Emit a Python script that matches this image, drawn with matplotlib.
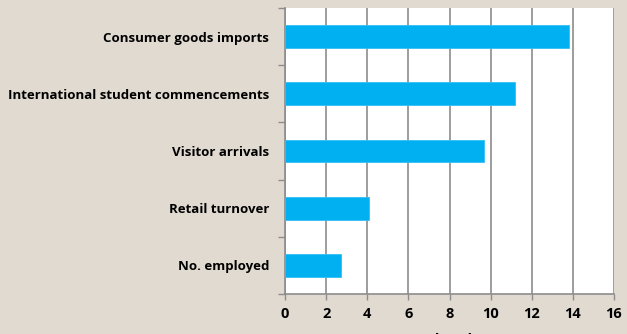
import matplotlib.pyplot as plt
import numpy as np

# Data (annual % change), top to bottom as shown
categories = [
    "Consumer goods imports",
    "International student commencements",
    "Visitor arrivals",
    "Retail turnover",
    "No. employed",
]
values = [13.8, 11.2, 9.7, 4.1, 2.7]
x_ticks = list(range(0, 17, 2))

BG = "#E0DAD0"
BAR = "#00B0F0"
GRID = "#8C8C8C"

plt.rcParams["font.family"] = ["Open Sans", "DejaVu Sans"]

fig = plt.figure(figsize=(6.27, 3.34), dpi=100, facecolor=BG)
ax = fig.add_axes([285 / 627, 1 - 294 / 334, 329 / 627, 286 / 334])
ax.set_facecolor("white")

n = len(categories)
ypos = np.arange(n)[::-1]
ax.barh(ypos, values, height=0.4, color=BAR, edgecolor="#33C0F4", linewidth=0.6, zorder=3)

ax.set_xlim(0, 16)
ax.set_ylim(-0.5, n - 0.5)
ax.set_xticks(x_ticks)
ax.set_xticklabels([str(t) for t in x_ticks], fontsize=10.5, fontweight="bold")
ax.grid(axis="x", color=GRID, linewidth=1.2, zorder=0)
ax.set_axisbelow(True)

# category boundaries as major ticks, names as minor ticks
ax.set_yticks(np.arange(-0.5, n, 1.0))
ax.set_yticklabels([])
ax.set_yticks(ypos, minor=True)
ax.set_yticklabels(categories, minor=True, fontsize=9.5, fontweight="bold")
ax.tick_params(axis="y", which="minor", length=0, pad=11.5)
ax.tick_params(axis="y", which="major", length=5, color=GRID, width=1)
ax.tick_params(axis="x", length=4, color=GRID, width=1, pad=5.5)

for side in ["top", "right"]:
    ax.spines[side].set_visible(False)
for side in ["left", "bottom"]:
    ax.spines[side].set_color(GRID)
    ax.spines[side].set_linewidth(1.2)

# axis title sits mostly below the image edge, as in the source
ax.set_xlabel("Annual % change", fontsize=10.5, fontweight="bold", labelpad=8.5)

fig.savefig("out.png", dpi=100, facecolor=BG)
